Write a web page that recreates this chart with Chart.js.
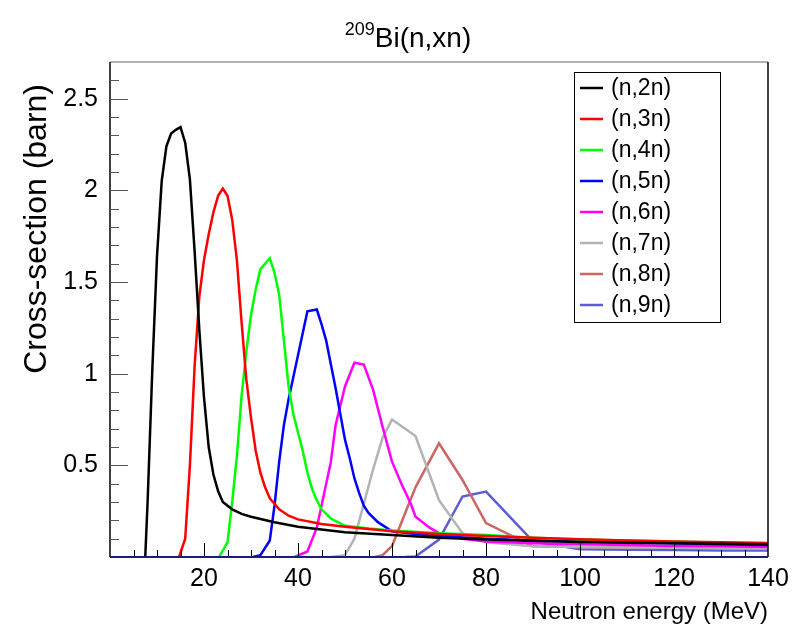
<!DOCTYPE html>
<html>
<head>
<meta charset="utf-8">
<script src="https://cdn.jsdelivr.net/npm/chart.js@4/dist/chart.umd.min.js"></script>
<style>
  html, body { margin: 0; padding: 0; background: #fff; }
</style>
</head>
<body>
<canvas id="xsChart" width="806" height="632"></canvas>
<script>
// reaction labels and ROOT-like colours
const reactions = ['(n,2n)', '(n,3n)', '(n,4n)', '(n,5n)', '(n,6n)', '(n,7n)', '(n,8n)', '(n,9n)'];
const colors = ['#000000', '#ff0000', '#00ff00', '#0000ff', '#ff00ff', '#b3b3b3', '#cc6666', '#5c5cd6'];

// energies (MeV) and cross sections (barn)
const e2n  = [7.5, 8, 9, 10, 11, 12, 13, 14, 15, 16, 17, 18, 19, 20, 21, 22, 23, 24, 26, 28, 30, 35, 40, 45, 50, 60, 70, 80, 90, 100, 110, 120, 130, 140];
const xs2n = [0, 0.3, 1.02, 1.64, 2.05, 2.24, 2.31, 2.33, 2.345, 2.26, 2.06, 1.67, 1.24, 0.87, 0.6, 0.45, 0.36, 0.3, 0.26, 0.235, 0.22, 0.19, 0.165, 0.15, 0.135, 0.12, 0.105, 0.095, 0.088, 0.082, 0.078, 0.075, 0.072, 0.07];

const e3n  = [14.7, 16, 17, 18, 19, 20, 21, 22, 23, 24, 25, 26, 27, 28, 29, 30, 31, 32, 33, 34, 36, 38, 40, 45, 50, 60, 70, 80, 90, 100, 110, 120, 130, 140];
const xs3n = [0, 0.1, 0.5, 1.04, 1.42, 1.62, 1.76, 1.88, 1.97, 2.01, 1.97, 1.84, 1.62, 1.28, 0.97, 0.76, 0.58, 0.46, 0.38, 0.32, 0.26, 0.225, 0.205, 0.18, 0.165, 0.14, 0.125, 0.115, 0.105, 0.097, 0.09, 0.085, 0.08, 0.076];

const e4n  = [23.2, 25, 26, 27, 28, 29, 30, 31, 32, 34, 35, 36, 37, 38, 39, 40, 41, 42, 43, 44, 45, 47, 50, 55, 60, 70, 80, 90, 100, 110, 120, 130, 140];
const xs4n = [0, 0.08, 0.3, 0.55, 0.88, 1.12, 1.32, 1.46, 1.57, 1.63, 1.55, 1.43, 1.18, 0.93, 0.78, 0.68, 0.58, 0.46, 0.37, 0.31, 0.26, 0.21, 0.17, 0.155, 0.145, 0.13, 0.12, 0.105, 0.095, 0.09, 0.085, 0.078, 0.073];

const e5n  = [30.4, 32, 34, 35, 36, 37, 38, 39, 40, 41, 42, 44, 45, 46, 47, 48, 49, 50, 51, 52, 53, 54, 55, 57, 60, 65, 70, 80, 90, 100, 110, 120, 130, 140];
const xs5n = [0, 0.01, 0.09, 0.28, 0.52, 0.72, 0.86, 0.98, 1.1, 1.22, 1.34, 1.35, 1.27, 1.18, 1.05, 0.92, 0.78, 0.64, 0.54, 0.43, 0.35, 0.28, 0.24, 0.19, 0.14, 0.125, 0.115, 0.1, 0.09, 0.085, 0.08, 0.075, 0.07, 0.066];

const e6n  = [39.3, 42, 44, 45, 46, 47, 48, 50, 52, 54, 56, 58, 60, 62, 64, 65, 68, 70, 75, 80, 90, 100, 110, 120, 130, 140];
const xs6n = [0, 0.03, 0.16, 0.28, 0.4, 0.52, 0.72, 0.93, 1.06, 1.05, 0.91, 0.71, 0.52, 0.4, 0.29, 0.22, 0.16, 0.13, 0.1, 0.085, 0.075, 0.07, 0.065, 0.06, 0.058, 0.055];

const e7n  = [47, 50, 52, 54, 56, 58, 60, 65, 70, 75, 80, 90, 100, 110, 120, 130, 140];
const xs7n = [0, 0.01, 0.1, 0.29, 0.48, 0.65, 0.75, 0.66, 0.31, 0.13, 0.08, 0.058, 0.055, 0.052, 0.05, 0.048, 0.046];

const e8n  = [56.3, 58, 60, 65, 70, 75, 80, 90, 100, 110, 120, 130, 140];
const xs8n = [0, 0.01, 0.06, 0.38, 0.62, 0.42, 0.185, 0.058, 0.054, 0.052, 0.051, 0.05, 0.05];

const e9n  = [62.7, 65, 70, 75, 80, 90, 100, 110, 120, 130, 140];
const xs9n = [0, 0.003, 0.095, 0.33, 0.357, 0.085, 0.042, 0.04, 0.038, 0.036, 0.035];

const energies = [e2n, e3n, e4n, e5n, e6n, e7n, e8n, e9n];
const sigmas   = [xs2n, xs3n, xs4n, xs5n, xs6n, xs7n, xs8n, xs9n];

// axis ticks
const xLabels = [20, 40, 60, 80, 100, 120, 140];
const yLabels = [0.5, 1, 1.5, 2, 2.5];

const FONT = '"Liberation Sans", Arial, Helvetica, sans-serif';

const datasets = reactions.map((name, i) => ({
  label: name,
  data: energies[i].map((e, k) => ({ x: e, y: sigmas[i][k] })),
  borderColor: colors[i],
  backgroundColor: colors[i],
  borderWidth: 2.5,
  pointRadius: 0,
  tension: 0,
  fill: false
}));

// ROOT-ish frame, inner ticks, labels, titles and legend
const rootStyle = {
  id: 'rootStyle',
  afterDatasetsDraw(chart) {
    const ctx = chart.ctx;
    const a = chart.chartArea;
    const xs = chart.scales.x, ys = chart.scales.y;
    ctx.save();

    // frame
    ctx.lineWidth = 1.5;
    ctx.strokeStyle = '#999999';
    ctx.beginPath(); ctx.moveTo(a.left, a.top); ctx.lineTo(a.right, a.top); ctx.stroke();
    ctx.strokeStyle = '#000000';
    ctx.beginPath(); ctx.moveTo(a.left, a.top); ctx.lineTo(a.left, a.bottom); ctx.stroke();
    ctx.beginPath(); ctx.moveTo(a.right, a.top); ctx.lineTo(a.right, a.bottom); ctx.stroke();

    // x ticks (inside)
    ctx.lineWidth = 1;
    ctx.strokeStyle = '#000000';
    for (let v = 5; v < 140; v += 5) {
      const px = Math.round(xs.getPixelForValue(v)) + 0.5;
      const len = v % 20 === 0 ? 14 : 7;
      ctx.beginPath(); ctx.moveTo(px, a.bottom); ctx.lineTo(px, a.bottom - len); ctx.stroke();
    }
    // y ticks (inside)
    ctx.strokeStyle = '#555555';
    for (let k = 1; k <= 26; k++) {
      const v = k / 10;
      const py = Math.round(ys.getPixelForValue(v)) + 0.5;
      const len = k % 5 === 0 ? 18 : 9;
      ctx.beginPath(); ctx.moveTo(a.left, py); ctx.lineTo(a.left + len, py); ctx.stroke();
    }

    // bottom axis line
    ctx.lineWidth = 2;
    ctx.strokeStyle = '#1c1c7a';
    ctx.beginPath(); ctx.moveTo(a.left, a.bottom); ctx.lineTo(a.right, a.bottom); ctx.stroke();

    // tick labels
    ctx.fillStyle = '#000000';
    ctx.font = '25px ' + FONT;
    ctx.textAlign = 'center';
    ctx.textBaseline = 'top';
    xLabels.forEach(v => ctx.fillText(String(v), xs.getPixelForValue(v), a.bottom + 10));
    ctx.textAlign = 'right';
    ctx.textBaseline = 'middle';
    yLabels.forEach(v => ctx.fillText(String(v), a.left - 12, ys.getPixelForValue(v)));

    // axis titles
    ctx.font = '24px ' + FONT;
    ctx.textAlign = 'right';
    ctx.textBaseline = 'alphabetic';
    ctx.fillText('Neutron energy (MeV)', a.right, 619);
    ctx.save();
    ctx.translate(46, 84);
    ctx.rotate(-Math.PI / 2);
    ctx.textAlign = 'right';
    ctx.font = '32px ' + FONT;
    ctx.fillText('Cross-section (barn)', 0, 0);
    ctx.restore();

    // title with superscript mass number
    const sup = '209', main = 'Bi(n,xn)';
    ctx.font = '18px ' + FONT;
    const wSup = ctx.measureText(sup).width;
    ctx.font = '28px ' + FONT;
    const wMain = ctx.measureText(main).width;
    const x0 = 408 - (wSup + wMain) / 2;
    ctx.textAlign = 'left';
    ctx.font = '18px ' + FONT;
    ctx.fillText(sup, x0, 35);
    ctx.font = '28px ' + FONT;
    ctx.fillText(main, x0 + wSup, 47);

    // legend box
    const lx = 574, ly = 72, lw = 146, lh = 250;
    ctx.fillStyle = '#ffffff';
    ctx.fillRect(lx, ly, lw, lh);
    ctx.lineWidth = 1;
    ctx.strokeStyle = '#000000';
    ctx.strokeRect(lx + 0.5, ly + 0.5, lw, lh);
    ctx.font = '23px ' + FONT;
    ctx.textAlign = 'left';
    ctx.textBaseline = 'middle';
    chart.data.datasets.forEach((ds, i) => {
      const cy = ly + 16 + i * 31;
      ctx.strokeStyle = ds.borderColor;
      ctx.lineWidth = 2.5;
      ctx.beginPath(); ctx.moveTo(lx + 6, cy); ctx.lineTo(lx + 29, cy); ctx.stroke();
      ctx.fillStyle = '#000000';
      ctx.fillText(ds.label, lx + 37, cy + 1);
    });

    ctx.restore();
  }
};

new Chart(document.getElementById('xsChart'), {
  type: 'line',
  data: { datasets },
  options: {
    responsive: false,
    animation: false,
    devicePixelRatio: 1,
    layout: { padding: { left: 110, right: 38, top: 62, bottom: 75 } },
    plugins: { legend: { display: false }, tooltip: { enabled: false } },
    scales: {
      x: { type: 'linear', min: 0, max: 140, display: false },
      y: { type: 'linear', min: 0, max: 2.7, display: false }
    }
  },
  plugins: [rootStyle]
});
</script>
</body>
</html>
